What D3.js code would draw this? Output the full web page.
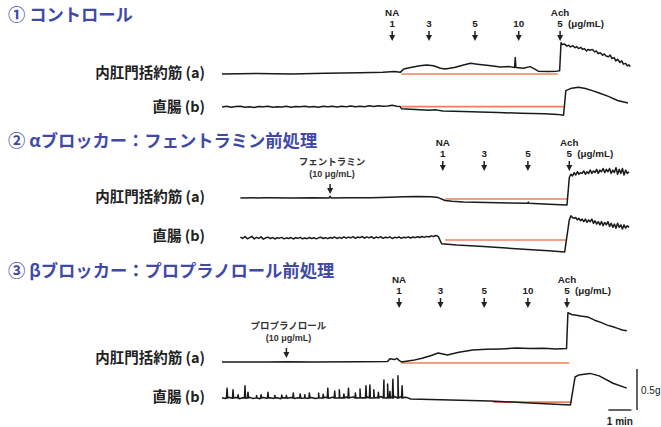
<!DOCTYPE html>
<html>
<head>
<meta charset="utf-8">
<script src="https://cdn.jsdelivr.net/npm/d3@7"></script>
<style>
  body { margin: 0; background: #fff; }
  svg { display: block; }
</style>
</head>
<body>
<div id="chart"></div>
<script>
// panel titles and trace names
const panelTitles = ["① コントロール", "② αブロッカー：フェントラミン前処理", "③ βブロッカー：プロプラノロール前処理"];
const traceNames = ["内肛門括約筋 (a)", "直腸 (b)"];

// drug additions (time in min, label)
const doseTimes1 = [7.4, 9.0, 11.0, 12.9, 14.7];
const doseLabels1 = ["1", "3", "5", "10", "5"];
const doseTimes2 = [9.6, 11.4, 13.3, 15.1];
const doseLabels2 = ["1", "3", "5", "5"];
const doseTimes3 = [7.7, 9.5, 11.4, 13.3, 15.0];
const doseLabels3 = ["1", "3", "5", "10", "5"];

// blocker pretreatment
const pretreatTimes = [null, 4.7, 2.8];
const pretreatNames = [null, "フェントラミン", "プロプラノロール"];
const pretreatDose = "(10 μg/mL)";

// traces: [time (min), tension (g) relative to baseline]
const p1a = [[0,0],[1.5,0.005],[3,0],[4.5,0.01],[6,0.015],[7,0.02],[7.5,0.03],[7.75,0.02],
  [7.9,0.06],[8.2,0.08],[8.6,0.1],[8.9,0.11],[9.2,0.1],[9.5,0.07],[9.7,0.06],[10.1,0.08],[10.5,0.11],
  [10.8,0.13],[11.1,0.12],[11.4,0.11],[11.7,0.1],[12.1,0.085],[12.5,0.09],[12.72,0.08],[12.75,0.2],
  [12.78,0.08],[13.1,0.07],[13.4,0.09],[13.6,0.06],[13.75,0.035],[14.2,0.03],[14.55,0.035],[14.68,0.04],
  [14.74,0.38],[14.8,0.36],[14.9,0.365],[15.0,0.34],[15.08,0.35],[15.15,0.33],[15.25,0.345],[15.35,0.32],
  [15.42,0.335],[15.5,0.31],[15.6,0.325],[15.68,0.3],[15.75,0.31],[15.85,0.28],[15.92,0.3],[16.0,0.29],
  [16.1,0.3],[16.2,0.27],[16.28,0.28],[16.35,0.25],[16.45,0.26],[16.55,0.23],[16.62,0.245],[16.7,0.22],
  [16.8,0.21],[16.88,0.23],[16.95,0.19],[17.05,0.2],[17.12,0.16],[17.2,0.18],[17.3,0.14],[17.38,0.16],
  [17.45,0.12],[17.55,0.13],[17.62,0.1],[17.7,0.11],[17.75,0.09]];
const p1b = [[0,0],[0.2,0.008],[0.4,-0.004],[0.6,0.006],[0.8,0.01],[1.0,-0.002],[1.2,0.004],[1.4,-0.006],
  [1.6,0.006],[1.8,0.002],[2.0,0.01],[2.2,-0.004],[2.4,0.004],[2.6,0],[2.8,0.008],[3.0,-0.004],[3.2,0.006],
  [3.4,0.002],[3.6,0.01],[3.8,0],[4.0,0.006],[4.2,-0.002],[4.4,0.01],[4.6,0.004],[4.8,0.008],[5.0,0],
  [5.2,0.01],[5.4,0.004],[5.6,0.012],[5.8,0.002],[6.0,0.008],[6.2,0.004],[6.4,0.014],[6.6,0.006],
  [6.8,0.016],[7.0,0.008],[7.2,0.012],[7.4,0.02],[7.6,0.01],[7.75,0.006],
  [7.8,-0.02],[8.4,-0.03],[9.0,-0.04],[9.3,-0.035],[9.6,-0.05],[10.5,-0.055],[11.2,-0.06],[12,-0.068],
  [13,-0.075],[14,-0.082],[14.6,-0.09],[14.85,-0.1],
  [14.95,0.2],[15.2,0.23],[15.5,0.24],[15.8,0.225],[16.1,0.2],[16.4,0.17],[16.8,0.13],[17.2,0.08],[17.65,0.05]];
const p2a = [[0.8,0],[2,0.003],[3,0],[4,0.004],[4.65,0],[4.7,0.02],[4.75,0],[5.5,0.004],[6.5,0.003],
  [7.3,0.01],[7.9,0.015],[8.5,0.018],[9.1,0.014],[9.4,0.005],[9.7,-0.03],[10.0,-0.04],[10.5,-0.05],
  [11.5,-0.055],[12.5,-0.06],[13.3,-0.065],[13.32,-0.05],[13.35,-0.065],[14.2,-0.075],[15.0,-0.085],
  [15.1,0.25],[15.17,0.29],[15.24,0.27],[15.31,0.31],[15.38,0.28],[15.45,0.32],[15.52,0.29],[15.59,0.31],
  [15.66,0.3],[15.73,0.33],[15.8,0.29],[15.87,0.32],[15.94,0.3],[16.01,0.34],[16.08,0.3],[16.15,0.33],
  [16.22,0.31],[16.29,0.35],[16.36,0.3],[16.43,0.34],[16.5,0.32],[16.57,0.36],[16.64,0.31],[16.71,0.35],
  [16.78,0.32],[16.85,0.36],[16.92,0.3],[16.99,0.34],[17.06,0.31],[17.13,0.37],[17.2,0.29],[17.27,0.35],
  [17.34,0.3],[17.41,0.36],[17.48,0.28],[17.55,0.34],[17.62,0.3],[17.7,0.32]];
const p2b = [[0.8,0.012],[0.9,-0.006],[1.0,0.018],[1.1,-0.01],[1.2,0.004],[1.3,0.02],[1.4,-0.012],[1.5,0.008],
  [1.6,-0.004],[1.7,0.014],[1.8,-0.014],[1.9,0.002],[2.0,0.01],[2.1,-0.008],[2.2,0.006],[2.3,-0.012],
  [2.4,0.004],[2.5,-0.002],[2.6,0.008],[2.7,-0.01],[2.8,0.002],[2.9,-0.006],[3.0,0.006],[3.1,-0.012],
  [3.2,0.004],[3.3,-0.004],[3.4,0.008],[3.5,-0.01],[3.6,0],[3.7,-0.008],[3.8,0.006],[3.9,-0.006],
  [4.0,0.004],[4.1,-0.01],[4.2,0.002],[4.3,0.01],[4.4,-0.006],[4.5,0.004],[4.6,-0.008],[4.7,0.006],
  [4.8,-0.002],[4.9,0.012],[5.0,-0.006],[5.1,0.008],[5.2,-0.004],[5.3,0.014],[5.4,-0.002],[5.5,0.01],
  [5.6,0.002],[5.7,0.016],[5.8,-0.004],[5.9,0.012],[6.0,0.004],[6.1,0.018],[6.2,-0.002],[6.3,0.014],
  [6.4,0.002],[6.5,0.016],[6.6,-0.006],[6.7,0.012],[6.8,0.002],[6.9,0.016],[7.0,-0.004],[7.1,0.01],
  [7.2,0.002],[7.3,0.014],[7.4,-0.006],[7.5,0.008],[7.6,0.002],[7.7,0.012],[7.8,-0.004],[7.9,0.01],
  [8.0,0.004],[8.1,0.014],[8.2,0],[8.3,0.012],[8.4,0.004],[8.5,0.016],[8.6,0.006],[8.7,0.018],
  [8.8,0.008],[8.9,0.02],[9.0,0.012],[9.1,0.026],[9.2,0.018],[9.3,0.03],[9.4,0.02],
  [9.55,-0.07],[10.2,-0.085],[11.2,-0.1],[12.2,-0.12],[13.3,-0.14],[14.2,-0.155],[14.9,-0.17],
  [15.1,0.22],[15.17,0.27],[15.24,0.25],[15.31,0.24],[15.38,0.25],[15.45,0.22],[15.52,0.24],[15.59,0.21],
  [15.66,0.23],[15.73,0.2],[15.8,0.23],[15.87,0.19],[15.94,0.22],[16.01,0.2],[16.08,0.23],[16.15,0.18],
  [16.22,0.21],[16.29,0.17],[16.36,0.2],[16.43,0.16],[16.5,0.2],[16.57,0.15],[16.64,0.19],[16.71,0.16],
  [16.78,0.2],[16.85,0.14],[16.92,0.18],[16.99,0.13],[17.06,0.17],[17.13,0.12],[17.2,0.18],[17.27,0.13],
  [17.34,0.16],[17.41,0.11],[17.48,0.16],[17.55,0.12],[17.62,0.15],[17.7,0.13]];
const p3a = [[0,0],[2,0],[2.8,0.004],[4,0],[6,0.003],[7.2,0.005],[7.3,0.04],[7.5,0.03],[7.6,0.045],
  [7.7,0.02],[7.8,0],[8.3,0.02],[8.7,0.045],[9.1,0.08],[9.4,0.11],[9.8,0.085],[10.3,0.12],[10.9,0.146],
  [11.5,0.155],[12.1,0.16],[12.8,0.17],[13.4,0.165],[14.0,0.168],[14.5,0.16],[14.98,0.165],
  [15.04,0.6],[15.2,0.58],[15.4,0.57],[15.6,0.56],[15.9,0.55],[16.2,0.51],[16.5,0.48],[16.75,0.45],
  [17.0,0.43],[17.2,0.41],[17.4,0.39],[17.6,0.38]];
const p3bBase = [[0,0.004],[0.15,-0.006],[0.3,0.008],[0.45,-0.004],[0.6,0.006],[0.75,-0.008],[0.9,0.004],
  [1.05,-0.004],[1.2,0.008],[1.35,-0.006],[1.5,0.002],[1.65,-0.008],[1.8,0.006],[1.95,-0.004],[2.1,0.004],
  [2.25,-0.006],[2.4,0.002],[2.55,-0.008],[2.7,0.004],[2.85,-0.004],[3.0,0.006],[3.15,-0.006],[3.3,0.004],
  [3.45,-0.004],[3.6,0.008],[3.75,-0.004],[3.9,0.006],[4.05,-0.006],[4.2,0.008],[4.35,0],[4.5,0.01],
  [4.65,-0.002],[4.8,0.01],[4.95,0],[5.1,0.012],[5.25,0.002],[5.4,0.012],[5.55,0.002],[5.7,0.014],
  [5.85,0.004],[6.0,0.014],[6.15,0.004],[6.3,0.016],[6.45,0.006],[6.6,0.016],[6.75,0.006],[6.9,0.018],
  [7.05,0.008],[7.2,0.02],[7.35,0.01],[7.5,0.02],[7.65,0.012],[7.8,0.02],[7.95,0.01],[8.05,0.005],
  [8.2,-0.012],[9.5,-0.02],[11.65,-0.036],[13.4,-0.06],[15.15,-0.085],
  [15.35,0.256],[15.5,0.28],[16.0,0.3],[16.4,0.27],[17.0,0.18],[17.6,0.12]];
const p3bSpikeTimes = [0.22,0.48,0.7,1.0,1.13,1.5,1.7,2.0,2.3,2.6,2.8,3.1,3.4,3.6,3.8,4.2,4.4,4.6,4.9,5.1,
  5.3,5.5,5.8,6.0,6.26,6.43,6.6,6.8,7.04,7.2,7.3,7.43,7.65,7.83];
const p3bSpikeValues = [0.12,0.1,0.04,0.15,0.07,0.03,0.04,0.07,0.03,0.035,0.03,0.06,0.05,0.04,0.06,0.06,
  0.045,0.12,0.085,0.1,0.05,0.12,0.06,0.11,0.15,0.16,0.1,0.07,0.22,0.17,0.08,0.23,0.27,0.15];

// orange reference lines: [start, end, level]
const ref1 = [[7.8,14.6,0],[7.8,14.85,0.005]];
const ref2 = [[9.7,15.0,-0.012],[9.7,15.0,-0.025]];
const ref3 = [[7.8,15.1,-0.012],[11.8,15.2,-0.05]];

const width = 661, height = 427;
const svg = d3.select("#chart").append("svg")
  .attr("width", width).attr("height", height);

const jp = "'Noto Sans CJK JP', 'Noto Sans', sans-serif";
const latin = "'Liberation Sans Narrow', 'Liberation Sans', Arial, sans-serif";
const x = d3.scaleLinear().domain([0, 18]).range([222, 636]);
// 0.5 g = 41 px for every trace
const yFor = base => d3.scaleLinear().domain([0, 0.5]).range([base, base - 41]);

// build spike trace for panel 3 rectum
const p3b = p3bBase.slice();
p3bSpikeTimes.forEach((t, i) => {
  p3b.push([t - 0.025, 0], [t, p3bSpikeValues[i]], [t + 0.025, 0]);
});
p3b.sort((a, b) => a[0] - b[0]);

const panels = [
  { titleY: 21, traces: [p1a, p1b], bases: [74, 107], labelY: [78, 112], refs: ref1,
    times: doseTimes1, labels: doseLabels1, topY: 16 },
  { titleY: 147, traces: [p2a, p2b], bases: [198, 238], labelY: [202, 241], refs: ref2,
    times: doseTimes2, labels: doseLabels2, topY: 146 },
  { titleY: 277, traces: [p3a, p3b], bases: [362, 398], labelY: [363, 402], refs: ref3,
    times: doseTimes3, labels: doseLabels3, topY: 283 }
];

function arrow(px, top) {
  svg.append("line").attr("x1", px).attr("x2", px).attr("y1", top).attr("y2", top + 5)
    .attr("stroke", "#222").attr("stroke-width", 1.5);
  svg.append("path")
    .attr("d", `M${px - 3},${top + 4} L${px + 3},${top + 4} L${px},${top + 10} Z`)
    .attr("fill", "#222");
}

panels.forEach((p, pi) => {
  svg.append("text").attr("x", 8).attr("y", p.titleY)
    .attr("font-family", jp).attr("font-weight", "bold").attr("font-size", 17.3)
    .attr("fill", "#4049a8").text(panelTitles[pi]);

  p.traces.forEach((tr, ti) => {
    const y = yFor(p.bases[ti]);
    svg.append("text").attr("x", 205).attr("y", p.labelY[ti])
      .attr("text-anchor", "end").attr("font-family", jp).attr("font-weight", "bold")
      .attr("font-size", 14.5).attr("fill", "#222").text(traceNames[ti]);

    const r = p.refs[ti];
    svg.append("line").attr("x1", x(r[0])).attr("x2", x(r[1]))
      .attr("y1", y(r[2])).attr("y2", y(r[2]))
      .attr("stroke", "#f08058").attr("stroke-width", 1.6);

    svg.append("path").datum(tr)
      .attr("d", d3.line().x(d => x(d[0])).y(d => y(d[1])))
      .attr("fill", "none").attr("stroke", "#1a1a1a").attr("stroke-width", 1.5)
      .attr("stroke-linejoin", "round");
  });

  // dose markers
  const top = p.topY;
  p.times.forEach((t, i) => {
    const px = x(t);
    if (i === 0 || i === p.times.length - 1) {
      svg.append("text").attr("x", px).attr("y", top)
        .attr("text-anchor", "middle").attr("font-family", latin).attr("font-weight", "bold")
        .attr("font-size", 9.8).attr("fill", "#222").text(i === 0 ? "NA" : "Ach");
    }
    svg.append("text").attr("x", px).attr("y", top + 11)
      .attr("text-anchor", "middle").attr("font-family", latin).attr("font-weight", "bold")
      .attr("font-size", 9.8).attr("fill", "#222").text(p.labels[i]);
    arrow(px, top + 15);
  });
  svg.append("text").attr("x", x(p.times[p.times.length - 1]) + 8).attr("y", top + 11)
    .attr("font-family", latin).attr("font-weight", "bold")
    .attr("font-size", 9.8).attr("fill", "#222").text("(μg/mL)");

  // pretreatment marker
  if (pretreatTimes[pi] !== null) {
    const px = x(pretreatTimes[pi]);
    const arrowTop = pi === 1 ? 184 : 348;
    svg.append("text").attr("x", px + 2).attr("y", arrowTop - 19)
      .attr("text-anchor", "middle").attr("font-family", jp).attr("font-weight", "bold")
      .attr("font-size", 9.5).attr("fill", "#333").text(pretreatNames[pi]);
    svg.append("text").attr("x", px + 2).attr("y", arrowTop - 7)
      .attr("text-anchor", "middle").attr("font-family", latin).attr("font-weight", "bold")
      .attr("font-size", 9).attr("fill", "#333").text(pretreatDose);
    arrow(px, arrowTop);
  }
});

// scale bars
const yb = yFor(410);
svg.append("line").attr("x1", 637).attr("x2", 637).attr("y1", yb(0)).attr("y2", yb(0.5))
  .attr("stroke", "#222").attr("stroke-width", 1.4);
svg.append("text").attr("x", 641).attr("y", 394).attr("font-family", latin)
  .attr("font-size", 10).attr("fill", "#222").text("0.5g");
svg.append("line").attr("x1", x(16.8)).attr("x2", x(17.8)).attr("y1", 410).attr("y2", 410)
  .attr("stroke", "#222").attr("stroke-width", 1.4);
svg.append("text").attr("x", x(17.3)).attr("y", 425).attr("text-anchor", "middle")
  .attr("font-family", latin).attr("font-weight", "bold").attr("font-size", 10).attr("fill", "#222").text("1 min");
</script>
</body>
</html>
